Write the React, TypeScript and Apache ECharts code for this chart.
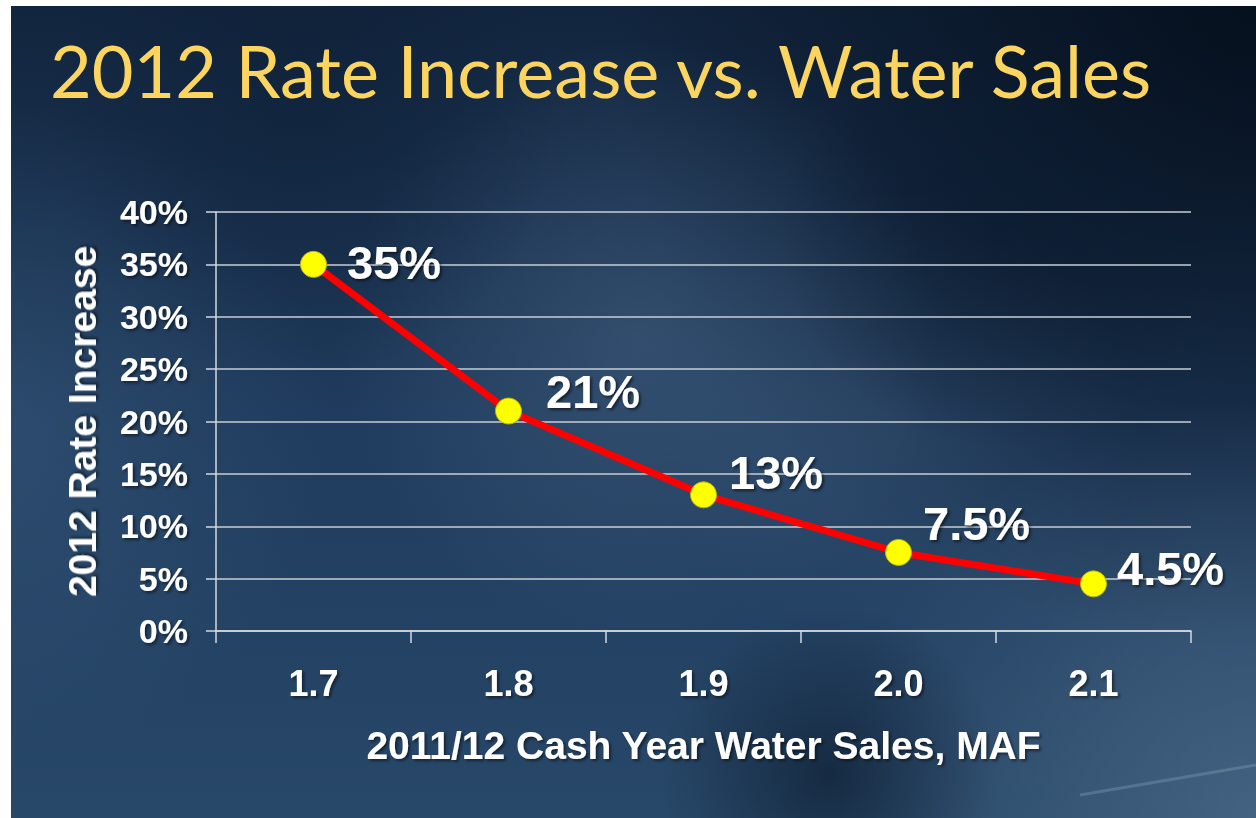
import React, { useEffect, useRef } from "react";
import * as echarts from "echarts";

const titleText = "2012 Rate Increase vs. Water Sales";
const salesCategories = ["1.7", "1.8", "1.9", "2.0", "2.1"];
const rateIncrease = [35, 21, 13, 7.5, 4.5];
const rateLabels = ["35%", "21%", "13%", "7.5%", "4.5%"];
const yAxisTitle = "2012 Rate Increase";
const xAxisTitle = "2011/12 Cash Year Water Sales, MAF";

const FONT = "'Liberation Sans', Arial, sans-serif";

export default function App() {
  const ref = useRef<HTMLDivElement>(null);
  useEffect(() => {
    if (!ref.current) return;
    const chart = echarts.init(ref.current, undefined, { renderer: "svg" });
    const nudges: [number, number][] = [
      [10, -2],
      [14, -20],
      [2, -22],
      [1, -29],
      [0, -15],
    ];
    const radial = (cx: number, cy: number, r: number, color: string) => ({
      type: "radial",
      x: cx,
      y: cy,
      r,
      global: true,
      colorStops: [
        { offset: 0, color },
        { offset: 1, color: color.replace(/[\d.]+\)$/, "0)") },
      ],
    });
    const bgRect = (fill: any) => ({
      type: "rect",
      shape: { x: 11, y: 6, width: 1245, height: 812 },
      style: { fill },
      silent: true,
      z: -10,
    });
    const shadow = {
      textShadowColor: "rgba(0,0,0,0.5)",
      textShadowBlur: 3,
      textShadowOffsetX: 2,
      textShadowOffsetY: 2,
    };
    chart.setOption({
      animation: false,
      backgroundColor: "#ffffff",
      graphic: [
        bgRect({
          type: "linear",
          x: 0,
          y: 0,
          x2: 0,
          y2: 1,
          colorStops: [
            { offset: 0, color: "#12253e" },
            { offset: 0.5, color: "#1f3b5d" },
            { offset: 1, color: "#284869" },
          ],
        }),
        bgRect(radial(1256, 0, 650, "rgba(5,15,28,0.95)")),
        bgRect(radial(0, 430, 330, "rgba(60,95,130,0.45)")),
        bgRect(radial(640, 340, 300, "rgba(95,125,155,0.33)")),
        bgRect(radial(900, 430, 240, "rgba(80,110,140,0.22)")),
        bgRect(radial(1256, 818, 420, "rgba(85,115,145,0.6)")),
        bgRect(radial(830, 775, 170, "rgba(8,20,36,0.55)")),
        bgRect(radial(1000, 230, 220, "rgba(10,25,45,0.5)")),
        bgRect(radial(300, 120, 260, "rgba(10,25,45,0.35)")),
        {
          type: "line",
          shape: { x1: 1080, y1: 795, x2: 1256, y2: 765 },
          style: { stroke: "rgba(150,175,200,0.3)", lineWidth: 3 },
          silent: true,
          z: -9,
        },
        {
          type: "text",
          x: 50,
          y: 70,
          style: {
            text: titleText,
            font: "normal 72px Lato, 'Open Sans', sans-serif",
            textVerticalAlign: "middle",
            fill: "#fcd560",
            shadowColor: "rgba(0,0,0,0.6)",
            shadowBlur: 4,
            shadowOffsetX: 2,
            shadowOffsetY: 2,
          },
          z: 10,
        },
      ],
      grid: { left: 216, right: 65, top: 212, bottom: 187, containLabel: false },
      xAxis: {
        type: "category",
        data: salesCategories,
        boundaryGap: true,
        name: xAxisTitle,
        nameLocation: "middle",
        nameGap: 114,
        nameTextStyle: {
          color: "#ffffff",
          fontFamily: FONT,
          fontWeight: "bold",
          fontSize: 39,
          verticalAlign: "middle",
          ...shadow,
        },
        axisLine: { show: true, lineStyle: { color: "#d5d9e0", width: 1.5 } },
        axisTick: {
          show: true,
          alignWithLabel: false,
          length: 12,
          lineStyle: { color: "#d5d9e0", width: 1.5 },
        },
        axisLabel: {
          color: "#ffffff",
          fontFamily: FONT,
          fontWeight: "bold",
          fontSize: 36,
          margin: 34,
          ...shadow,
        },
        splitLine: { show: false },
      },
      yAxis: {
        type: "value",
        min: 0,
        max: 40,
        interval: 5,
        name: yAxisTitle,
        nameLocation: "middle",
        nameGap: 134,
        nameRotate: 90,
        nameTextStyle: {
          color: "#ffffff",
          fontFamily: FONT,
          fontWeight: "bold",
          fontSize: 39,
          verticalAlign: "middle",
          ...shadow,
        },
        axisLine: { show: true, lineStyle: { color: "#d5d9e0", width: 1.5 } },
        axisTick: { show: true, length: 10, lineStyle: { color: "#d5d9e0", width: 1.5 } },
        axisLabel: {
          color: "#ffffff",
          fontFamily: FONT,
          fontWeight: "bold",
          fontSize: 34,
          margin: 28,
          formatter: "{value}%",
          ...shadow,
        },
        splitLine: { show: true, lineStyle: { color: "#c9ced6", width: 1.5 } },
      },
      series: [
        {
          type: "line",
          data: rateIncrease.map((v, i) => ({
            value: v,
            label: { offset: nudges[i], formatter: rateLabels[i] },
          })),
          lineStyle: { color: "#ff0000", width: 7 },
          itemStyle: { color: "#ffff00", borderColor: "#b8b800", borderWidth: 1 },
          symbol: "circle",
          symbolSize: 26,
          showSymbol: true,
          z: 5,
          label: {
            show: true,
            position: "right",
            distance: 10,
            color: "#ffffff",
            fontFamily: FONT,
            fontWeight: "bold",
            fontSize: 47,
            textShadowColor: "rgba(0,0,0,0.55)",
            textShadowBlur: 3,
            textShadowOffsetX: 2,
            textShadowOffsetY: 2,
          },
        },
      ],
    });
    return () => chart.dispose();
  }, []);
  return (
    <div
      ref={ref}
      style={{ position: "fixed", left: 0, top: 0, width: 1256, height: 818 }}
    />
  );
}
